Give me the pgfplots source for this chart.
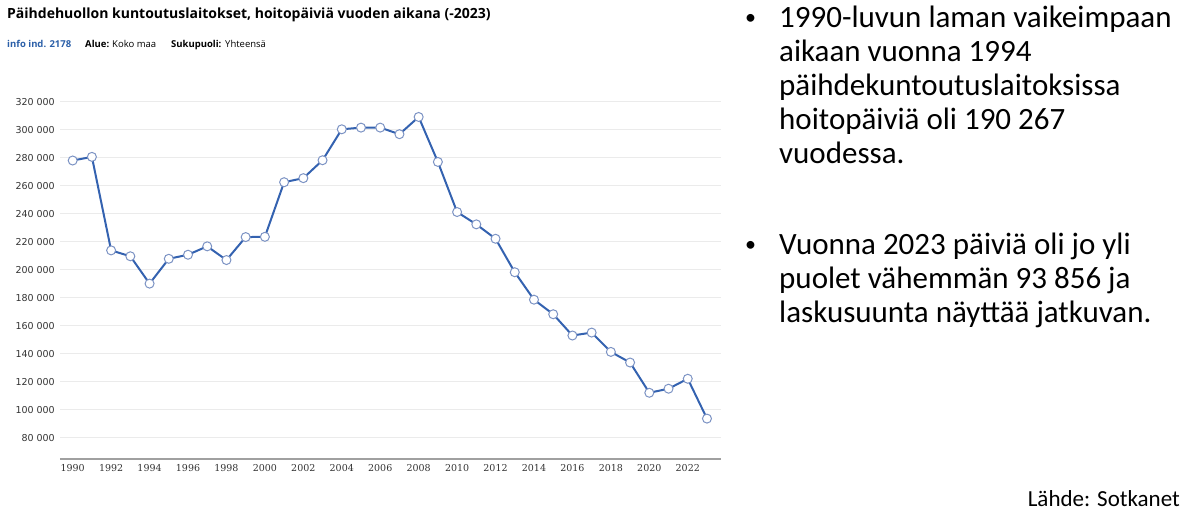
\documentclass[border=0pt]{standalone}
\usepackage{fontspec}
\usepackage{pgfplots}
\pgfplotsset{compat=1.18}
\setmainfont{Carlito}
\newfontfamily\titlefont{Open Sans}
\newfontfamily\tickfont{DejaVu Sans}
\newfontfamily\xtickfont{DejaVu Serif}
\definecolor{linecol}{HTML}{3462B0}
\definecolor{markcol}{HTML}{7C93C4}
\definecolor{gridcol}{HTML}{EBEBEB}
\definecolor{axiscol}{HTML}{A0A0A0}
\definecolor{infocol}{HTML}{2B5FA8}
\definecolor{labcol}{HTML}{333333}

\pgfplotstableread{
year value
1990 278200
1991 280800
1992 214000
1993 209800
1994 190267
1995 208000
1996 210900
1997 216900
1998 207100
1999 223500
2000 223700
2001 262700
2002 265600
2003 278400
2004 300500
2005 301700
2006 301700
2007 297000
2008 309300
2009 277200
2010 241400
2011 232600
2012 222300
2013 198400
2014 178800
2015 168400
2016 153200
2017 155300
2018 141500
2019 133900
2020 112300
2021 115200
2022 122300
2023 93856
}\hoitopaivat

\begin{document}
\begin{tikzpicture}
\path[use as bounding box] (0pt,0pt) rectangle (1200pt,516pt);

% otsikko
\node[anchor=base west, inner sep=0pt] at (7pt,497.7pt)
  {\titlefont\bfseries\fontsize{14}{16}\selectfont P\"aihdehuollon kuntoutuslaitokset, hoitop\"aivi\"a vuoden aikana (-2023)};
\begin{scope}[every node/.style={anchor=base west, inner sep=0pt, font=\titlefont\fontsize{9.5}{11}\selectfont}]
\node[text=infocol] at (7pt,468.5pt) {\bfseries info ind. 2178};
\node at (85pt,468.5pt) {\bfseries Alue:};
\node at (112pt,468.5pt) {Koko maa};
\node at (171pt,468.5pt) {\bfseries Sukupuoli:};
\node at (225pt,468.5pt) {Yhteens\"a};
\end{scope}

\begin{axis}[
    at={(60pt,57pt)}, anchor=south west,
    scale only axis,
    width=661pt, height=364pt,
    xmin=1989.34, xmax=2023.73,
    ymin=65000, ymax=325000,
    axis x line*=bottom,
    axis y line*=left,
    y axis line style={draw=none},
    x axis line style={draw=axiscol, line width=2pt, -},
    ymajorgrids,
    grid style={draw=gridcol, line width=1pt},
    major tick length=0pt,
    scaled y ticks=false,
    xtick={1990,1992,...,2022},
    xticklabels={1990,1992,1994,1996,1998,2000,2002,2004,2006,2008,2010,2012,2014,2016,2018,2020,2022},
    ytick={80000,100000,...,320000},
    yticklabels={80 000,100 000,120 000,140 000,160 000,180 000,200 000,220 000,240 000,260 000,280 000,300 000,320 000},
    yticklabel style={font=\tickfont\fontsize{9.5}{11}\selectfont, text=labcol, anchor=east, inner sep=0pt, xshift=-5pt},
    xticklabel style={font=\xtickfont\fontsize{9.5}{11}\selectfont, text=labcol, anchor=north, inner sep=0pt, yshift=-5pt},
    clip=false,
  ]
  \addplot[linecol, line width=2pt, mark=*, mark size=4.5pt,
    mark options={fill=white, draw=markcol, line width=1pt}]
    table[x=year, y=value] {\hoitopaivat};
\end{axis}

% diateksti
\begin{scope}[every node/.style={anchor=base west, inner sep=0pt,
    font=\fontsize{31}{34}\selectfont}]
\node[font=\fontsize{22}{26}\selectfont] at (745pt,491pt) {\textbullet};
\node at (779pt,488pt) {\begin{tabular}[t]{@{}l@{}}1990-luvun laman vaikeimpaan\\aikaan vuonna 1994\\p\"aihdekuntoutuslaitoksissa\\hoitop\"aivi\"a oli 190 267\\vuodessa.\end{tabular}};
\node[font=\fontsize{22}{26}\selectfont] at (745pt,264pt) {\textbullet};
\node at (779pt,261pt) {\begin{tabular}[t]{@{}l@{}}Vuonna 2023 p\"aivi\"a oli jo yli\\puolet v\"ahemm\"an 93 856 ja\\laskusuunta n\"aytt\"a\"a jatkuvan.\end{tabular}};
\end{scope}
\node[anchor=base east, inner sep=0pt, font=\fontsize{23}{26}\selectfont] at (1180pt,9.3pt) {L\"ahde: Sotkanet};
\end{tikzpicture}
\end{document}
